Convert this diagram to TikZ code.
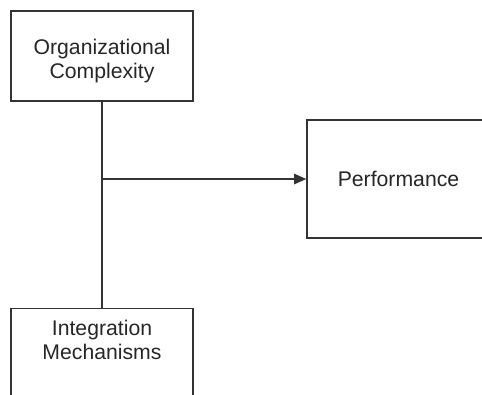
\documentclass[tikz,border=0pt]{standalone}
\usepackage{fontspec}
\setmainfont{Liberation Sans}
\usetikzlibrary{arrows.meta}

\begin{document}
\begin{tikzpicture}[x=0.03cm,y=-0.03cm,
  box/.style={draw=black!80,line width=1.1pt,rectangle,inner sep=0pt},
  lbl/.style={align=center,text=black!85,font=\fontsize{18.1}{20.5}\selectfont},
  conn/.style={draw=black!80,line width=1.1pt}]
\useasboundingbox (0,0) rectangle (482,394);
\clip (0,0) rectangle (482,394);
\node [box,minimum width=5.46cm,minimum height=2.7cm] (org) at (102,56) {};
\node [lbl] (orglbl) at ([yshift=-0.15cm]org.center) {Organizational\\Complexity};
\node [box,lbl,minimum width=5.49cm,minimum height=3.54cm] (perf) at (398.5,179) {Performance};
\node [box,minimum width=5.46cm,minimum height=3cm,anchor=north] (integ) at (102,308) {};
\node [lbl] (integlbl) at ([yshift=-0.96cm]integ.north) {Integration\\Mechanisms};
\coordinate (split) at (org.south |- perf.west);
\draw [conn] (org.south) -- (integ.north);
\draw [conn,-{Triangle[length=10.5pt,width=9pt]}] (split) -- (perf.west);
\end{tikzpicture}
\end{document}
